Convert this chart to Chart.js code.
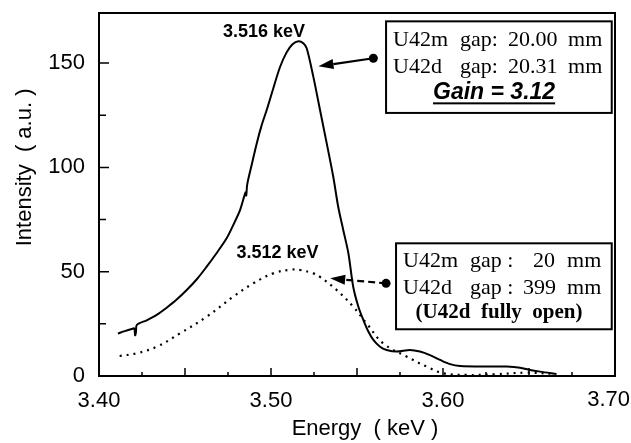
<!DOCTYPE html>
<html lang="en">
  <head>
    <meta charset="UTF-8" />
    <title>Intensity vs Energy</title>
    <script src="https://cdn.jsdelivr.net/npm/chart.js"></script>
    <style>
      html, body { margin: 0; padding: 0; background: #fff; }
      #wrap { width: 631px; height: 443px; }
    </style>
  </head>
  <body>
    <div id="wrap"><canvas id="gainChart"></canvas></div>

    <script>
      // U42m 20.00 mm + U42d 20.31 mm (solid)
      const solidEnergy = [3.411, 3.415, 3.419, 3.4205, 3.421, 3.4215, 3.422, 3.428, 3.434, 3.439,
        3.445, 3.451, 3.457, 3.4626, 3.468, 3.4742, 3.479, 3.482, 3.4852, 3.4856, 3.4862, 3.489,
        3.4917, 3.4945, 3.4975, 3.501, 3.5052, 3.509, 3.5125, 3.516, 3.5188, 3.5208, 3.5246,
        3.5285, 3.5324, 3.5362, 3.5391, 3.542, 3.545, 3.5478, 3.5508, 3.5537, 3.5566, 3.5595,
        3.5634, 3.5672, 3.5731, 3.5808, 3.5866, 3.5924, 3.5983, 3.6041, 3.6099, 3.6254, 3.637,
        3.6448, 3.6506, 3.6564, 3.666];
      const solidIntensity = [20.4, 21.5, 22.5, 22.8, 19.5, 21, 24.5, 26.8, 29.5, 32.5,
        36.5, 41.2, 46.5, 52.4, 58.5, 66, 74, 79.5, 88, 86.5, 92, 102,
        111.5, 120, 127.5, 137, 148, 155, 159, 160.5, 159.5, 157, 143.5,
        127.5, 111.5, 95.5, 81, 70, 58.8, 42.8, 33.2, 26.8, 21.3, 17.3,
        14, 12.5, 11.7, 12.5, 11.7, 10, 7.7, 5.7, 4.8, 4.5, 4.5,
        4, 2.9, 2.1, 1];

      // U42m 20 mm + U42d 399 mm, fully open (dotted)
      const dotEnergy = [3.412, 3.4219, 3.4335, 3.447, 3.4626, 3.478, 3.4897, 3.5013, 3.512,
        3.5169, 3.5246, 3.5285, 3.5382, 3.5478, 3.5556, 3.5653, 3.5789, 3.5905, 3.6002,
        3.6137, 3.63, 3.6486, 3.664];
      const dotIntensity = [9.6, 10.9, 14, 20.4, 28.4, 38, 44.4, 49.2, 51,
        50.8, 49.2, 47.5, 41.2, 33.2, 25.2, 15.6, 9.3, 4.5, 1.3,
        0.5, 0.8, 1.6, 1];

      const xLabels = [3.40, 3.50, 3.60, 3.70];
      const yLabels = [0, 50, 100, 150];

      const sansFont = "'Liberation Sans', Arial, sans-serif";
      const serifFont = "'Liberation Serif', 'Times New Roman', serif";

      function arrow(ctx, x0, y0, x1, y1, dashed) {
        ctx.save();
        ctx.strokeStyle = "#000";
        ctx.fillStyle = "#000";
        ctx.lineWidth = 2.2;
        const ang = Math.atan2(y1 - y0, x1 - x0);
        const hl = 15, hw = 5;
        const bx = x1 - hl * Math.cos(ang), by = y1 - hl * Math.sin(ang);
        if (dashed) ctx.setLineDash([7, 4]);
        ctx.beginPath();
        ctx.moveTo(x0, y0);
        ctx.lineTo(bx, by);
        ctx.stroke();
        ctx.setLineDash([]);
        ctx.beginPath();
        ctx.moveTo(x1, y1);
        ctx.lineTo(bx + hw * Math.sin(ang), by - hw * Math.cos(ang));
        ctx.lineTo(bx - hw * Math.sin(ang), by + hw * Math.cos(ang));
        ctx.closePath();
        ctx.fill();
        ctx.beginPath();
        ctx.arc(x0, y0, 4.5, 0, Math.PI * 2);
        ctx.fill();
        ctx.restore();
      }

      const lastX = xLabels[xLabels.length - 1];

      const framePlugin = {
        id: "frame",
        afterDraw(chart) {
          const { ctx, chartArea: a, scales } = chart;
          const xs = scales.x, ys = scales.y;
          const px = (v) => xs.getPixelForValue(v);
          const py = (v) => ys.getPixelForValue(v);
          ctx.save();
          ctx.strokeStyle = "#000";
          ctx.lineWidth = 2;
          ctx.strokeRect(a.left, a.top, a.right - a.left, a.bottom - a.top);

          // inward ticks
          ctx.lineWidth = 1.5;
          ctx.beginPath();
          for (let v = 25; v < 174; v += 25) {
            const len = v % 50 === 0 ? 10 : 7;
            ctx.moveTo(a.left, py(v));
            ctx.lineTo(a.left + len, py(v));
          }
          for (let i = 1; i < 12; i++) {
            const v = 3.4 + i * 0.025;
            const len = i % 2 === 0 ? 8 : 4;
            ctx.moveTo(px(v), a.bottom);
            ctx.lineTo(px(v), a.bottom - len);
          }
          ctx.stroke();

          ctx.fillStyle = "#000";
          // last x tick label, pulled inside the canvas edge
          ctx.font = "22px " + sansFont;
          ctx.textAlign = "right";
          ctx.textBaseline = "middle";
          ctx.fillText(lastX.toFixed(2), chart.width - 1, 400);

          // axis titles
          ctx.textAlign = "center";
          ctx.textBaseline = "alphabetic";
          ctx.fillText("Energy  ( keV )", a.left + (a.right - a.left) / 2 + 8, 435);
          ctx.save();
          ctx.translate(31, py(100));
          ctx.rotate(-Math.PI / 2);
          ctx.fillText("Intensity  ( a.u. )", 0, 0);
          ctx.restore();

          // peak labels
          ctx.font = "bold 18px " + sansFont;
          ctx.fillText("3.516 keV", px(3.4959), py(162.6));
          ctx.fillText("3.512 keV", px(3.5038), py(56.6));

          // box 1
          let bl = px(3.5669), bt = py(170.0), br = px(3.6981), bb = py(126.1);
          ctx.lineWidth = 2;
          ctx.strokeRect(bl, bt, br - bl, bb - bt);
          ctx.textAlign = "left";
          ctx.font = "22px " + serifFont;
          ctx.fillText("U42m", bl + 7, bt + 25);
          ctx.fillText("gap:", bl + 74, bt + 25);
          ctx.fillText("20.00", bl + 122, bt + 25);
          ctx.fillText("mm", bl + 182, bt + 25);
          ctx.fillText("U42d", bl + 7, bt + 52);
          ctx.fillText("gap:", bl + 74, bt + 52);
          ctx.fillText("20.31", bl + 122, bt + 52);
          ctx.fillText("mm", bl + 182, bt + 52);
          ctx.font = "italic bold 23px " + sansFont;
          ctx.textAlign = "center";
          const gx = bl + 108;
          ctx.fillText("Gain = 3.12", gx, bt + 78);
          const gw = ctx.measureText("Gain = 3.12").width;
          ctx.fillRect(gx - gw / 2, bt + 81, gw, 2);

          // box 2
          bl = px(3.5727); bt = py(63.6); br = px(3.6981); bb = py(22.4);
          ctx.strokeRect(bl, bt, br - bl, bb - bt);
          ctx.textAlign = "left";
          ctx.font = "22px " + serifFont;
          ctx.fillText("U42m", bl + 7, bt + 24);
          ctx.fillText("gap :", bl + 74, bt + 24);
          ctx.fillText("20", bl + 137, bt + 24);
          ctx.fillText("mm", bl + 171, bt + 24);
          ctx.fillText("U42d", bl + 7, bt + 51);
          ctx.fillText("gap :", bl + 74, bt + 51);
          ctx.fillText("399", bl + 127, bt + 51);
          ctx.fillText("mm", bl + 171, bt + 51);
          ctx.font = "bold 21px " + serifFont;
          ctx.textAlign = "center";
          ctx.fillText("(U42d  fully  open)", bl + 103, bt + 75);

          // arrows
          arrow(ctx, px(3.5595), py(152.3), px(3.5276), py(148.5), false);
          arrow(ctx, px(3.5669), py(44.4), px(3.5344), py(46.8), true);
          ctx.restore();
        },
      };

      const ctx = document.getElementById("gainChart").getContext("2d");
      new Chart(ctx, {
        type: "line",
        data: {
          datasets: [
            {
              label: "U42d gap 20.31 mm",
              data: solidEnergy.map((e, i) => ({ x: e, y: solidIntensity[i] })),
              borderColor: "#000",
              borderWidth: 2,
              pointRadius: 0,
              tension: 0.3,
              fill: false,
            },
            {
              label: "U42d fully open",
              data: dotEnergy.map((e, i) => ({ x: e, y: dotIntensity[i] })),
              borderColor: "#000",
              borderWidth: 2.2,
              borderDash: [2, 5],
              pointRadius: 0,
              tension: 0.4,
              fill: false,
            },
          ],
        },
        options: {
          responsive: true,
          maintainAspectRatio: false,
          animation: false,
          layout: { padding: { top: 13, right: 16, left: 0, bottom: 0 } },
          plugins: { legend: { display: false }, tooltip: { enabled: false } },
          scales: {
            x: {
              type: "linear",
              min: 3.4,
              max: 3.7,
              grid: { display: false, drawTicks: false },
              border: { display: false },
              afterFit: (s) => { s.height = 67; s.paddingLeft = 0; s.paddingRight = 0; },
              ticks: {
                stepSize: 0.025,
                padding: 12,
                autoSkip: false,
                maxRotation: 0,
                color: "#000",
                font: { family: sansFont, size: 22 },
                // the last label is drawn by the frame plugin so it stays inside the canvas
                callback: (v) => xLabels.some((l) => l !== lastX && Math.abs(l - v) < 1e-6) ? v.toFixed(2) : "",
              },
            },
            y: {
              min: 0,
              max: 174,
              grid: { display: false, drawTicks: false },
              border: { display: false },
              afterFit: (s) => { s.width = 99; s.paddingTop = 0; s.paddingBottom = 0; },
              ticks: {
                stepSize: 25,
                padding: 14,
                autoSkip: false,
                color: "#000",
                font: { family: sansFont, size: 22 },
                callback: (v) => yLabels.includes(v) ? String(v) : "",
              },
            },
          },
        },
        plugins: [framePlugin],
      });
    </script>
  </body>
</html>
